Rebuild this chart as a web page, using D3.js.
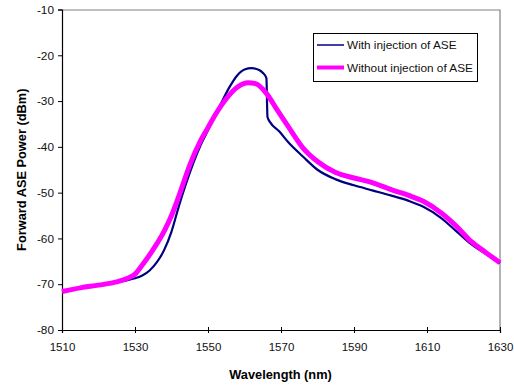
<!DOCTYPE html>
<html>
<head>
<meta charset="utf-8">
<script src="https://cdn.jsdelivr.net/npm/d3@7"></script>
<style>
  body { margin: 0; background: #fff; }
  svg { display: block; font-family: "Liberation Sans", Arial, sans-serif; }
</style>
</head>
<body>
<div id="chart"></div>
<script>
// wavelength (nm) / power (dBm)
let withWl = [1510, 1515, 1520, 1525, 1528, 1530, 1532, 1534, 1536, 1538, 1540, 1542, 1544, 1546, 1548, 1550, 1552, 1554, 1556, 1558, 1560, 1562, 1564, 1565, 1566, 1566.3, 1567, 1569.5, 1572, 1576, 1580, 1585, 1590, 1595, 1600, 1605, 1609, 1614, 1618, 1622, 1626, 1630];
let withPow = [-71.6, -70.7, -70.1, -69.5, -69.1, -68.7, -68.1, -67.0, -65.2, -62.5, -58.5, -53.0, -48.0, -43.5, -39.6, -36.4, -33.0, -29.8, -26.8, -24.4, -23.1, -22.8, -23.2, -23.8, -25.0, -33.5, -34.6, -36.6, -39.0, -42.1, -45.0, -47.1, -48.4, -49.5, -50.6, -51.8, -53.1, -55.6, -58.4, -61.2, -63.3, -65.4];

let withoutWl = [1510, 1515, 1520, 1525, 1528, 1530, 1532, 1535, 1538, 1540, 1542, 1545, 1548, 1550, 1552, 1555, 1558, 1561, 1563, 1566, 1569, 1572, 1576, 1580, 1585, 1590, 1595, 1600, 1605, 1609, 1614, 1618, 1622, 1626, 1630];
let withoutPow = [-71.6, -70.8, -70.2, -69.5, -68.7, -67.8, -65.8, -62.4, -58.4, -55.0, -50.8, -44.0, -38.6, -35.8, -33.0, -29.5, -27.0, -26.0, -26.2, -28.3, -32.0, -35.6, -40.2, -43.2, -45.6, -46.8, -47.8, -49.3, -50.6, -51.9, -54.5, -57.3, -60.6, -63.0, -65.3];

let xTicks = [1510, 1530, 1550, 1570, 1590, 1610, 1630];
let yTicks = [-10, -20, -30, -40, -50, -60, -70, -80];
let seriesNames = ["With injection of ASE", "Without injection of ASE"];

function drawChart() {
    let win_width = 514, win_height = 387;
    let margin = {top: 9.5, right: 14, bottom: 57, left: 62};
    let width = win_width - margin.left - margin.right;
    let height = win_height - margin.top - margin.bottom;

    let svg = d3.select("#chart").append("svg")
        .attr("width", win_width)
        .attr("height", win_height);

    let g = svg.append("g")
        .attr("transform", "translate(" + margin.left + "," + margin.top + ")");

    let x = d3.scaleLinear().domain([1510, 1630]).range([0, width]);
    let y = d3.scaleLinear().domain([-80, -10]).range([height, 0]);

    // grey frame top and right
    g.append("path")
        .attr("d", "M0,0.5H" + width + "V" + height)
        .attr("fill", "none")
        .attr("stroke", "#808080")
        .attr("stroke-width", 1.2);

    // x axis
    let xAxis = g.append("g")
        .attr("transform", "translate(0," + height + ")")
        .call(d3.axisBottom(x).tickValues(xTicks).tickFormat(d3.format("d")).tickSize(3).tickPadding(10));
    xAxis.select(".domain").attr("stroke", "#000").attr("stroke-width", 1.2);
    xAxis.selectAll(".tick line").attr("y1", -3);
    xAxis.selectAll(".tick text").attr("font-size", "11.5px").attr("fill", "#111").attr("font-family", null);

    // y axis
    let yAxis = g.append("g")
        .call(d3.axisLeft(y).tickValues(yTicks).tickFormat(d3.format("d")).tickSize(4).tickPadding(4));
    yAxis.select(".domain").attr("stroke", "#000").attr("stroke-width", 1.2);
    yAxis.selectAll(".tick text").attr("font-size", "11.8px").attr("fill", "#111").attr("font-family", null)
        .text(function(d) { return "-" + Math.abs(d); });

    let line = d3.line()
        .x(function(d) { return x(d[0]); })
        .y(function(d) { return y(d[1]); })
        .curve(d3.curveMonotoneX);

    let withData = d3.zip(withWl, withPow);
    let withoutData = d3.zip(withoutWl, withoutPow);

    g.append("path")
        .datum(withData)
        .attr("fill", "none")
        .attr("stroke", "#000080")
        .attr("stroke-width", 2.2)
        .attr("d", line);

    g.append("path")
        .datum(withoutData)
        .attr("fill", "none")
        .attr("stroke", "#ff00ff")
        .attr("stroke-width", 5)
        .attr("d", line);

    // axis titles
    svg.append("text")
        .attr("x", margin.left + width / 2 - 0.5)
        .attr("y", 379)
        .attr("text-anchor", "middle")
        .attr("font-size", "12.8px")
        .attr("font-weight", "bold")
        .text("Wavelength (nm)");

    svg.append("text")
        .attr("transform", "translate(26," + (margin.top + height / 2) + ") rotate(-90)")
        .attr("text-anchor", "middle")
        .attr("font-size", "12.8px")
        .attr("font-weight", "bold")
        .text("Forward ASE Power (dBm)");

    // legend
    let legend = svg.append("g").attr("transform", "translate(313,33)");
    legend.append("rect")
        .attr("x", 0.5).attr("y", 0.5)
        .attr("width", 164).attr("height", 48)
        .attr("fill", "#fff")
        .attr("stroke", "#000")
        .attr("stroke-width", 1);

    let legColors = ["#000080", "#ff00ff"];
    let legWidths = [1.5, 4];
    let legY = [12, 34.5];
    seriesNames.forEach(function(name, i) {
        legend.append("line")
            .attr("x1", 4).attr("x2", 31)
            .attr("y1", legY[i]).attr("y2", legY[i])
            .attr("stroke", legColors[i])
            .attr("stroke-width", legWidths[i]);
        legend.append("text")
            .attr("x", 34)
            .attr("y", legY[i] + 4.2)
            .attr("font-size", "11.8px")
            .attr("fill", "#111")
            .text(name);
    });
}

drawChart();
</script>
</body>
</html>
